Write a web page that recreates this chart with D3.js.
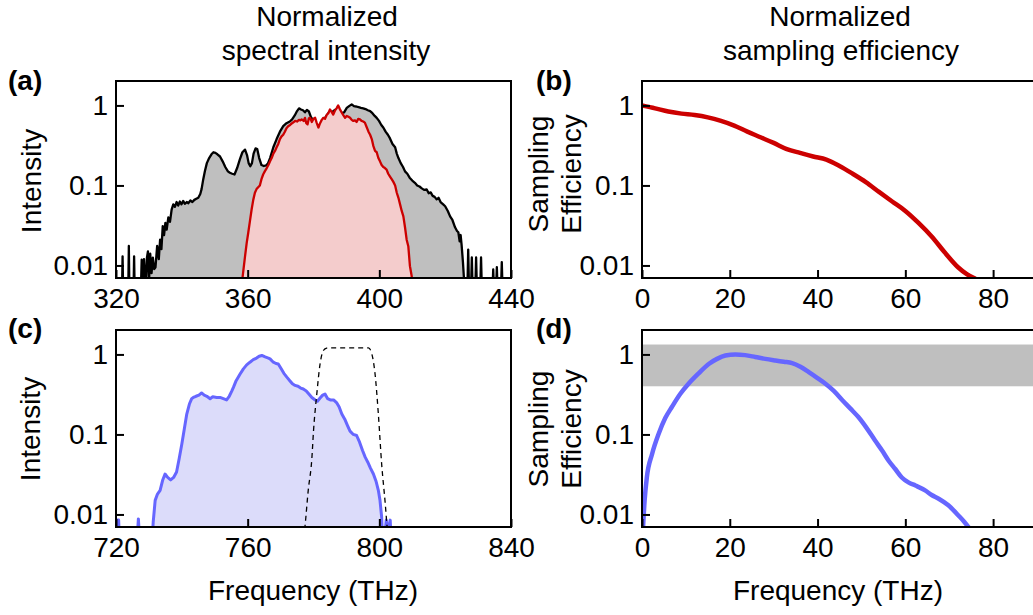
<!DOCTYPE html>
<html lang="en">
<head>
<meta charset="utf-8">
<title>Normalized spectra and sampling efficiency</title>
<script src="https://d3js.org/d3.v7.min.js"></script>
<style type="text/css">
  body { margin: 0; background: #fff; }
  svg { display: block; font-family: "Liberation Sans", Arial, sans-serif; }
  .tick line { stroke: #000; stroke-width: 2; }
</style>
</head>
<body>
<script type="text/javascript">

// ---- data ----
var yTickValues = [0.01, 0.1, 1];
var yTickLabels = ["0.01", "0.1", "1"];
var aTicks = [320, 360, 400, 440];
var cTicks = [720, 760, 800, 840];
var bdTicks = [0, 20, 40, 60, 80];

// (a) full spectrum (black) and filtered part (red)
var aFreq = [320.5,321.8,322.0,322.2,323.7,323.9,324.1,325.3,325.5,325.7,327.5,327.8,328.1,328.5,328.9,329.4,329.7,330.0,330.4,330.8,331.2,331.6,332.0,332.5,333.0,333.4,333.8,334.2,334.6,335.0,335.4,335.9,336.4,336.9,337.4,337.9,338.4,338.9,339.4,339.9,340.4,340.9,341.5,342.0,342.6,343.2,343.8,344.4,345.0,345.6,346.0,346.5,347.0,347.6,348.3,349.0,349.6,350.2,350.8,351.6,352.4,353.2,354.0,354.6,355.3,356.0,356.8,357.6,358.4,359.2,359.8,360.3,360.8,361.3,361.8,362.4,362.9,363.5,364.2,364.9,365.6,366.2,366.8,367.8,368.8,369.8,370.8,371.8,372.8,373.5,374.3,375.0,375.6,376.2,376.8,377.4,378.0,378.6,379.2,379.8,380.5,381.5,382.5,383.5,384.5,385.5,386.5,387.5,388.5,389.3,390.1,390.8,391.6,392.3,393.0,393.7,394.4,395.1,395.8,396.5,397.2,397.9,398.6,399.2,399.9,400.6,401.2,401.9,402.6,403.2,404.0,404.8,405.3,405.8,406.5,407.2,407.8,408.5,409.2,410.0,410.8,411.5,412.2,412.9,413.6,414.4,415.0,415.6,416.2,416.8,417.4,418.0,418.6,419.4,420.0,420.8,421.5,422.2,423.0,423.6,424.0,424.4,424.7,425.0,425.4,425.8,426.1,426.7,427.0,427.3,427.8,428.1,428.4,429.1,429.4,429.7,430.6,430.9,431.2,434.3,434.6,434.9,435.4,435.7,436.0,436.9,437.2,437.5,440.0];
var aFull = [0.004,0.004,0.013,0.004,0.004,0.0175,0.004,0.004,0.013,0.004,0.004,0.0118,0.005,0.012,0.005,0.0125,0.015,0.006,0.014,0.008,0.0125,0.009,0.0095,0.0175,0.012,0.021,0.016,0.031,0.024,0.034,0.028,0.04,0.035,0.05,0.058,0.054,0.062,0.056,0.063,0.058,0.064,0.059,0.062,0.06,0.065,0.062,0.066,0.068,0.07,0.078,0.09,0.119,0.15,0.19,0.22,0.245,0.26,0.255,0.245,0.23,0.2,0.17,0.15,0.144,0.14,0.137,0.165,0.21,0.26,0.28,0.24,0.19,0.174,0.19,0.25,0.29,0.285,0.22,0.18,0.175,0.178,0.19,0.22,0.3,0.38,0.47,0.55,0.6,0.63,0.67,0.75,0.85,0.92,0.89,0.87,0.82,0.88,0.84,0.72,0.66,0.6,0.52,0.62,0.7,0.8,0.82,0.88,0.9,0.8,0.82,0.93,0.98,1.03,0.98,0.97,0.95,0.93,0.92,0.9,0.87,0.85,0.8,0.74,0.70,0.64,0.57,0.53,0.47,0.43,0.39,0.33,0.30,0.25,0.22,0.19,0.17,0.15,0.14,0.125,0.115,0.108,0.1,0.097,0.092,0.088,0.089,0.08,0.082,0.074,0.072,0.067,0.07,0.062,0.058,0.055,0.048,0.041,0.037,0.03,0.027,0.026,0.02,0.024,0.018,0.011,0.006,0.004,0.004,0.0158,0.004,0.004,0.0126,0.004,0.004,0.0126,0.004,0.004,0.0126,0.004,0.004,0.0089,0.004,0.004,0.0095,0.004,0.004,0.011,0.004,0.004];

var aRedFreq = [358.0,358.6,359.2,359.7,360.2,360.7,361.2,361.7,362.2,362.7,363.2,363.7,364.2,364.7,365.2,365.8,366.3,366.8,367.3,367.8,368.3,368.8,369.3,369.8,370.3,370.8,371.3,371.8,372.3,372.9,373.5,374.0,374.4,375.0,375.6,376.0,376.4,377.0,377.4,377.8,378.2,378.6,379.0,379.5,380.0,380.5,381.0,381.5,382.0,382.5,383.0,383.5,384.0,384.5,385.0,385.5,386.0,386.5,387.0,387.5,388.0,388.6,389.1,389.6,390.1,390.6,391.1,391.6,392.1,392.6,393.1,393.6,394.1,394.6,395.1,395.6,396.2,396.7,397.2,397.7,398.2,398.7,399.2,399.7,400.2,400.7,401.2,401.7,402.2,402.7,403.2,403.8,404.3,404.8,405.3,405.8,406.3,406.8,407.3,407.8,408.3,408.8,409.3,409.8,410.3];
var aRed = [0.005,0.008,0.013,0.019,0.026,0.036,0.05,0.066,0.081,0.09,0.095,0.1,0.12,0.137,0.15,0.165,0.18,0.2,0.22,0.25,0.27,0.30,0.33,0.38,0.41,0.43,0.47,0.52,0.55,0.57,0.6,0.62,0.64,0.63,0.66,0.65,0.67,0.64,0.7,0.6,0.58,0.69,0.7,0.62,0.68,0.70,0.6,0.53,0.6,0.66,0.70,0.68,0.76,0.8,0.89,0.83,0.77,0.86,0.92,1.0,0.9,0.81,0.75,0.70,0.74,0.72,0.7,0.66,0.64,0.65,0.62,0.68,0.67,0.64,0.63,0.61,0.53,0.47,0.43,0.38,0.31,0.27,0.26,0.22,0.20,0.18,0.17,0.165,0.158,0.14,0.13,0.119,0.11,0.1,0.081,0.07,0.058,0.048,0.041,0.03,0.021,0.0174,0.0098,0.0075,0.005];

// (b) sampling efficiency for the red spectrum
var bFreq = [0,3,6,9,12,15,18,21,24,27,30,33,36,39,42,45,48,51,54,57,60,63,66,69,72,74,76];
var bEff = [1.0,0.92,0.84,0.79,0.76,0.71,0.64,0.56,0.47,0.40,0.34,0.285,0.255,0.23,0.21,0.175,0.14,0.11,0.083,0.063,0.048,0.034,0.023,0.0145,0.0095,0.0078,0.0068];

// (c) second harmonic spectrum (blue) and filter (dashed)
var cFreq = [720.0,720.3,720.8,721.1,726.3,726.8,727.3,730.9,731.3,731.9,732.6,733.4,734.2,734.9,735.7,736.6,737.5,738.4,739.2,740.0,740.8,741.5,742.3,743.0,743.5,744.3,745.2,746.0,746.8,747.6,748.6,749.4,750.6,751.6,752.6,753.6,754.4,755.2,755.7,756.5,757.7,758.7,759.7,760.7,761.7,762.7,763.5,764.3,765.3,766.3,766.8,767.8,768.6,769.3,770.1,771.0,771.9,772.8,773.6,774.4,775.3,776.1,776.9,777.8,778.6,779.5,780.5,781.2,782.0,782.8,783.5,784.3,785.1,786.1,787.0,787.8,788.6,789.5,790.3,791.1,792.1,793.1,794.0,794.9,795.7,796.5,797.3,798.2,799.0,799.7,800.2,800.7,801.0,801.6,802.1,802.6,803.3,803.7,840.0];
var cSpec = [0.004,0.0085,0.0085,0.004,0.004,0.0088,0.004,0.004,0.008,0.015,0.018,0.02,0.027,0.032,0.029,0.027,0.029,0.034,0.05,0.076,0.12,0.18,0.24,0.28,0.29,0.30,0.31,0.33,0.31,0.30,0.28,0.295,0.29,0.29,0.28,0.27,0.30,0.35,0.39,0.47,0.57,0.66,0.74,0.8,0.86,0.9,0.95,0.97,0.93,0.90,0.88,0.8,0.77,0.76,0.67,0.58,0.52,0.47,0.43,0.41,0.40,0.38,0.37,0.35,0.32,0.29,0.27,0.26,0.285,0.31,0.32,0.28,0.27,0.27,0.25,0.22,0.18,0.155,0.13,0.11,0.10,0.097,0.08,0.063,0.052,0.045,0.038,0.032,0.026,0.02,0.015,0.0093,0.005,0.005,0.0085,0.006,0.0085,0.004,0.004];

var filtFreq = [777.0,777.4,778.4,779.5,780.0,781.0,782.0,783.0,784.0,785.0,790.0,796.7,797.7,798.7,799.7,800.7,801.8,802.3,802.7];
var filtVal = [0.005,0.007,0.02,0.05,0.11,0.32,0.76,1.12,1.2,1.21,1.21,1.21,1.02,0.57,0.18,0.043,0.0136,0.0075,0.005];

// (d) sampling efficiency for the blue spectrum, and the shaded band
var dFreq = [0.1,0.6,1.1,2.3,3.8,5.3,6.8,8.7,10.6,12.9,15.2,17.1,19.0,21.3,23.5,25.8,28.1,30.4,32.3,34.2,36.1,38.0,39.9,41.8,43.7,45.6,47.5,49.3,51.2,53.1,54.7,56.2,57.7,59.2,60.8,62.3,64.5,66.0,67.6,69.8,72.1,73.5,74.8];
var dEff = [0.005,0.015,0.029,0.057,0.102,0.16,0.22,0.32,0.43,0.58,0.76,0.88,0.97,1.0,0.98,0.93,0.88,0.84,0.81,0.78,0.70,0.60,0.51,0.43,0.35,0.27,0.21,0.165,0.12,0.084,0.063,0.047,0.037,0.029,0.025,0.023,0.02,0.0175,0.0157,0.013,0.0097,0.008,0.0065];
var dBand = [0.40, 1.33];

// ---- layout ----
var W = 1033, H = 615;
var pw = 395, ph = 197;
var yDomain = [0.00697, 2.02];
var fs = 28;

var svg = d3.select("body").append("svg")
  .attr("width", W)
  .attr("height", H);

function zip(xs, ys) {
  return xs.map(function (x, i) { return { x: x, y: ys[i] }; });
}

function panel(id, left, top, xDomain, xTicks) {
  var x = d3.scaleLinear().domain(xDomain).range([0, pw]);
  var y = d3.scaleLog().domain(yDomain).range([ph, 0]);
  var g = svg.append("g").attr("transform", "translate(" + left + "," + top + ")");

  svg.append("clipPath").attr("id", "clip-" + id)
    .append("rect").attr("width", pw).attr("height", ph);
  var plot = g.append("g").attr("clip-path", "url(#clip-" + id + ")");

  var xAxis = d3.axisBottom(x).tickValues(xTicks)
    .tickSizeInner(-8).tickSizeOuter(0).tickPadding(10)
    .tickFormat(d3.format("d"));
  g.append("g").attr("transform", "translate(0," + ph + ")").call(xAxis)
    .call(function (s) { s.select(".domain").remove(); s.selectAll("text").attr("font-size", fs).attr("font-family", null).attr("fill", "#000"); });

  var yAxis = d3.axisLeft(y).tickValues(yTickValues)
    .tickSizeInner(-8).tickSizeOuter(0).tickPadding(8)
    .tickFormat(function (d, i) { return yTickLabels[i]; });
  g.append("g").call(yAxis)
    .call(function (s) { s.select(".domain").remove(); s.selectAll("text").attr("font-size", fs).attr("font-family", null).attr("fill", "#000"); });

  return { g: g, plot: plot, x: x, y: y };
}

function frame(p) {
  p.g.append("rect").attr("width", pw).attr("height", ph)
    .attr("fill", "none").attr("stroke", "#000").attr("stroke-width", 2);
}

function fillArea(p, data, color, curve) {
  var a = d3.area().x(function (d) { return p.x(d.x); })
    .y0(ph + 30).y1(function (d) { return p.y(d.y); });
  if (curve) a.curve(curve);
  p.plot.append("path").datum(data).attr("d", a).attr("fill", color);
}

function drawLine(p, data, color, width, curve, dash) {
  var l = d3.line().x(function (d) { return p.x(d.x); }).y(function (d) { return p.y(d.y); });
  if (curve) l.curve(curve);
  var path = p.plot.append("path").datum(data).attr("d", l)
    .attr("fill", "none").attr("stroke", color).attr("stroke-width", width)
    .attr("stroke-linejoin", "round");
  if (dash) path.attr("stroke-dasharray", dash);
}

// (a)
var pa = panel("a", 116, 81, [320, 440], aTicks);
fillArea(pa, zip(aFreq, aFull), "#bfbfbf");
drawLine(pa, zip(aFreq, aFull), "#000", 2.3);
fillArea(pa, zip(aRedFreq, aRed), "#f4cccc");
drawLine(pa, zip(aRedFreq, aRed), "#cc0000", 2.3);
frame(pa);

// (b)
var pb = panel("b", 642, 81, [0, 90], bdTicks);
drawLine(pb, zip(bFreq, bEff), "#cc0000", 4.5, d3.curveMonotoneX);
frame(pb);

// (c)
var pc = panel("c", 116, 330, [720, 840], cTicks);
fillArea(pc, zip(cFreq, cSpec), "#dcdcfa");
drawLine(pc, zip(cFreq, cSpec), "#6666ff", 3);
drawLine(pc, zip(filtFreq, filtVal), "#000", 1.3, d3.curveMonotoneX, "5,4");
frame(pc);

// (d)
var pd = panel("d", 642, 330, [0, 90], bdTicks);
pd.plot.append("rect")
  .attr("x", 0).attr("width", pw)
  .attr("y", pd.y(dBand[1])).attr("height", pd.y(dBand[0]) - pd.y(dBand[1]))
  .attr("fill", "#bfbfbf");
drawLine(pd, zip(dFreq, dEff), "#6666ff", 4.5, d3.curveMonotoneX);
frame(pd);

// ---- text ----
function label(txt, x, y, opts) {
  opts = opts || {};
  var t = svg.append("text").attr("x", x).attr("y", y).text(txt)
    .attr("font-size", opts.size || fs)
    .attr("text-anchor", opts.anchor || "middle")
    .attr("fill", "#000");
  if (opts.bold) t.attr("font-weight", "bold");
  if (opts.rotate) t.attr("transform", "rotate(-90," + x + "," + y + ")");
  return t;
}

label("Normalized", 327, 26);
label("spectral intensity", 326, 60);
label("Normalized", 840, 26);
label("sampling efficiency", 841, 60);

label("(a)", 8, 90, { bold: true, anchor: "start", size: 28 });
label("(b)", 536, 90, { bold: true, anchor: "start", size: 28 });
label("(c)", 8, 338, { bold: true, anchor: "start", size: 28 });
label("(d)", 536, 338, { bold: true, anchor: "start", size: 28 });

label("Intensity", 41, 181, { rotate: true });
label("Intensity", 40, 429, { rotate: true });
label("Sampling", 548, 174, { rotate: true });
label("Efficiency", 581, 174, { rotate: true });
label("Sampling", 548, 429, { rotate: true });
label("Efficiency", 581, 429, { rotate: true });

label("Frequency (THz)", 313, 600);
label("Frequency (THz)", 838, 600);

</script>
</body>
</html>
